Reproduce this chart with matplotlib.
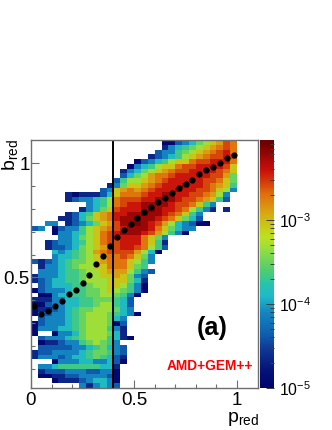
import numpy as np
import matplotlib
matplotlib.use('Agg')
import matplotlib.pyplot as plt
from matplotlib.colors import LinearSegmentedColormap, LogNorm

plt.rcParams['font.family'] = ['Liberation Sans', 'DejaVu Sans']
plt.rcParams['mathtext.fontset'] = 'custom'
plt.rcParams['mathtext.rm'] = 'Liberation Sans'
plt.rcParams['mathtext.default'] = 'regular'

# first filled column of each row, counted from the top of the plot
row_start = [19, 19, 18, 17, 15, 14, 13, 13, 12, 11, 10, 5, 5, 8, 7, 5, 4, 2, 0, 3,
             4, 2, 2, 3, 3, 0, 1, 1, 0, 0, 1, 0, 1, 0, 0, 0, 0, 1, 0, 0,
             0, 1, 1, 1, 0, 0, 3, 1, 1, 1, 3, 7]

# colour level of each cell, '.' is an empty cell
row_levels = [
    '002346789ba', '13456789aba', '23356789abca', '12345789abbcb',
    '02345788abbccca', '0345788abbccccb8', '1346789abbccccba8', '24679aabcccccbb96',
    '257789abcccccbba86', '136889abcccdccba985', '2389a9abcccdccbba873',
    '10111248aaabccddccbba973', '1233457abbbccdddcbba9852', '3457abccddddcbba853',
    '13468bcccdedccba7531.1', '124589accddeddcba853', '1124689acddeddcba8642',
    '33.1234689bddedcb9743200', '23.02335789abcdddca86433', '0334578abcdddcb97530',
    '334678abcccca863', '12334578abbccca851', '122346789bbccba752',
    '4345679abbbb9740', '34456789aaba863', '21234566789aaa8753', '1334567788aaa865',
    '33345567789997532', '13334556778898632', '12344556777888641', '2344455677887530',
    '02333455667876530', '003445566776530', '111334455666542', '002334455677542',
    '011234566777643', '0223345677765430', '2333456777643', '02333456777602',
    '03334456777531', '0..03346777641', '23334567775410', '011233567653',
    '2222233456432', '12233334566532', '13332344565421', '03334433420',
    '334555555441', '122233322330', '001122333320', '0111234430', '313432',
]

# log10 of the bin content for each level
level_log = {'0': -4.9, '1': -4.62, '2': -4.35, '3': -4.1, '4': -3.85, '5': -3.65,
             '6': -3.48, '7': -3.3, '8': -3.03, '9': -2.85, 'a': -2.7, 'b': -2.55,
             'c': -2.4, 'd': -2.22, 'e': -2.1}

# profile points, one per p_red bin
profile_b = [0.376, 0.340, 0.353, 0.375, 0.396, 0.428, 0.444, 0.477, 0.512, 0.558,
             0.596, 0.637, 0.676, 0.710, 0.736, 0.760, 0.786, 0.808, 0.830, 0.850,
             0.869, 0.891, 0.909, 0.929, 0.953, 0.971, 0.983, 1.001, 1.023, 1.036]

# palette
palette_log = [-5, -4.76, -4.52, -4.33, -4.05, -3.89, -3.74, -3.57, -3.36, -3.18,
               -3.0, -2.9, -2.67, -2.38, -2.05]
palette_rgb = [(0, 0, 110), (5, 20, 120), (15, 55, 150), (15, 95, 175), (20, 140, 195),
               (30, 185, 200), (40, 195, 170), (80, 205, 110), (140, 220, 70), (190, 225, 30),
               (205, 190, 20), (215, 170, 20), (225, 110, 10), (200, 15, 10), (110, 0, 0)]

zmin, zmax = 1e-5, 10 ** -2.05
xmax, ymin, ymax = 1.104, 0.0154, 1.103
bin_w = 1.1 / 33
grey = '#6e6e6e'

n_rows = len(row_levels)
n_cols = 33
z = np.full((n_rows, n_cols), np.nan)
for r, (start, levels) in enumerate(zip(row_start, row_levels)):
    for i, ch in enumerate(levels):
        if ch != '.':
            z[r, start + i] = 10 ** level_log[ch]

pos = [(v - palette_log[0]) / (palette_log[-1] - palette_log[0]) for v in palette_log]
cols = [tuple(c / 255 for c in rgb) for rgb in palette_rgb]
cmap = LinearSegmentedColormap.from_list('bar', list(zip(pos, cols)), N=256)
norm = LogNorm(vmin=zmin, vmax=zmax)

W, H = 332, 430
fig = plt.figure(figsize=(W / 100, H / 100), dpi=100)
ax = fig.add_axes([31 / W, (H - 388) / H, 227.5 / W, 248 / H])

x_edges = np.arange(n_cols + 1) * bin_w
y_edges = np.linspace(ymax, ymin, n_rows + 1)
mesh = ax.pcolormesh(x_edges, y_edges, z, cmap=cmap, norm=norm, linewidth=0)

ax.axvline(0.4, color='black', lw=1.4)
profile_x = (np.arange(len(profile_b)) + 0.5) * bin_w
ax.plot(profile_x, profile_b, 'o', color='black', ms=4.5, mew=0, clip_on=False)

ax.set_xlim(0, xmax)
ax.set_ylim(ymin, ymax)
ax.set_xticks([0, 0.5, 1])
ax.set_xticklabels(['0', '0.5', '1'], fontsize=13.5)
ax.set_yticks([0.5, 1])
ax.set_yticklabels(['0.5', '1'], fontsize=13.5)
ax.set_xticks(np.arange(1, 11) / 10, minor=True)
ax.set_yticks(np.arange(1, 11) / 10, minor=True)
ax.tick_params(which='major', direction='in', length=5.5, width=0.8, color=grey)
ax.tick_params(axis='x', which='major', pad=3)
ax.tick_params(axis='y', which='major', pad=1)
ax.tick_params(which='minor', direction='in', length=2.8, width=0.8, color=grey)
for s in ax.spines.values():
    s.set_color(grey)
    s.set_linewidth(1.0)

fig.text(259 / W, 1 - 422 / H, r'$p_{red}$', fontsize=14, ha='right', va='baseline')
fig.text(20.5 / W, 1 - 139 / H, r'$b_{red}$', fontsize=14, rotation=90, ha='right', va='top')
fig.text(212.5 / W, 1 - 328.5 / H, '(a)', fontsize=18.3, fontweight='bold', ha='center', va='center')
fig.text(209.5 / W, 1 - 365.5 / H, 'AMD+GEM++', fontsize=9.9, fontweight='bold', color='#ff0000',
         ha='center', va='center')

# colour bar
cax = fig.add_axes([259.5 / W, (H - 388) / H, 14.5 / W, 248 / H])
cb = fig.colorbar(mesh, cax=cax)
cb.outline.set_visible(False)
cb.solids.set_edgecolor('face')
cax.set_yticks([1e-5, 1e-4, 1e-3])
cax.set_yticklabels(['$10^{-5}$', '$10^{-4}$', '$10^{-3}$'], fontsize=11.3)
minor = [m * 10.0 ** e for e in (-5, -4, -3) for m in range(2, 10)]
cax.set_yticks([v for v in minor if v < zmax], minor=True)
cax.set_yticklabels([], minor=True)
cax.tick_params(which='major', direction='in', right=True, left=False, length=5.5, width=0.7,
                color='#3c3c3c', pad=3.5)
cax.tick_params(which='minor', direction='in', right=True, left=False, length=2.8, width=0.7,
                color='#3c3c3c')

fig.savefig('out.png', dpi=100)
